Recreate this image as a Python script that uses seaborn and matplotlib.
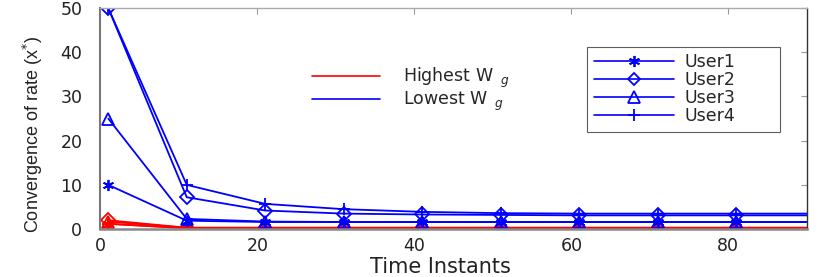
import numpy as np
import pandas as pd
import seaborn as sns
import matplotlib.pyplot as plt
from matplotlib.lines import Line2D

# time instants (last point sits beyond the axis limit, lines run to the edge)
time_instants = [1, 11, 21, 31, 41, 51, 61, 71, 81, 91]

# lowest W_g (blue)
low_user1 = [10.0, 1.9, 1.6, 1.6, 1.6, 1.6, 1.6, 1.6, 1.6, 1.6]
low_user2 = [50.0, 7.2, 4.2, 3.5, 3.3, 3.2, 3.1, 3.1, 3.1, 3.1]
low_user3 = [25.0, 2.3, 1.7, 1.6, 1.6, 1.6, 1.6, 1.6, 1.6, 1.6]
low_user4 = [50.0, 10.0, 5.7, 4.5, 3.9, 3.6, 3.5, 3.5, 3.5, 3.5]

# highest W_g (red)
high_user1 = [1.2, 0.2, 0.2, 0.2, 0.2, 0.2, 0.2, 0.2, 0.2, 0.2]
high_user2 = [2.0, 0.3, 0.3, 0.3, 0.3, 0.3, 0.3, 0.3, 0.3, 0.3]
high_user3 = [1.7, 0.3, 0.3, 0.3, 0.3, 0.3, 0.3, 0.3, 0.3, 0.3]
high_user4 = [1.2, 0.2, 0.2, 0.2, 0.2, 0.2, 0.2, 0.2, 0.2, 0.2]

user_names = ["User1", "User2", "User3", "User4"]
user_markers = [(6, 2, 0), "D", "^", "+"]

sns.set_style("white")
plt.rcParams['font.family'] = ['DejaVu Sans']

fig = plt.figure(figsize=(8.3, 2.77), dpi=100)
ax = fig.add_axes([0.121, 0.173, 0.851, 0.798])

series = [("#ff0000", [high_user1, high_user2, high_user3, high_user4]),
          ("#0000ff", [low_user1, low_user2, low_user3, low_user4])]

for color, users in series:
    for name, vals, mk in zip(user_names, users, user_markers):
        df = pd.DataFrame({'t': time_instants, 'rate': vals})
        sns.lineplot(data=df, x='t', y='rate', ax=ax, color=color,
                     marker=mk, markersize=8 if mk != "D" else 7,
                     markerfacecolor='none', markeredgecolor=color,
                     markeredgewidth=1.3, linewidth=1.3)

ax.set_xlim(0, 90)
ax.set_ylim(0, 50)
ax.set_xticks([0, 20, 40, 60, 80])
ax.set_yticks([0, 10, 20, 30, 40, 50])
ax.tick_params(direction='in', length=4, color='#999999', labelsize=12.5,
               top=True, right=True, labelcolor='#222222')
ax.tick_params(axis='x', pad=6)
ax.tick_params(axis='y', pad=13)
ax.spines['left'].set_color('#777777')
ax.spines['left'].set_linewidth(1.5)
ax.spines['bottom'].set_color('#888888')
ax.spines['bottom'].set_linewidth(1.8)
ax.spines['top'].set_color('#aaaaaa')
ax.spines['top'].set_linewidth(1.0)
ax.spines['right'].set_color('#333333')
ax.spines['right'].set_linewidth(1.0)

ax.set_xlabel("Time Instants", fontsize=15, color='#222222')
ax.xaxis.set_label_coords(0.482, -0.125)
ax.set_ylabel("Convergence of rate (x$^{*}$)", fontsize=13,
              color='#222222', family='Liberation Sans')
ax.yaxis.set_label_coords(-0.078, 0.43)

# weight legend
wg_handles = [Line2D([], [], color="#ff0000", lw=1.2),
              Line2D([], [], color="#0000ff", lw=1.2)]
leg1 = ax.legend(wg_handles, ["Highest W$_{\\ \\ g}$", "Lowest W$_{\\ \\ g}$"],
                 loc='upper left', bbox_to_anchor=(0.278, 0.81), frameon=False,
                 handlelength=3.9, handletextpad=1.3, fontsize=12.5,
                 labelspacing=0.0)
ax.add_artist(leg1)

# user legend
user_handles = [Line2D([], [], color="#0000ff", lw=1.2, marker=mk,
                       markerfacecolor='none', markeredgewidth=1.3,
                       markersize=8 if mk != "D" else 6)
                for mk in user_markers]
leg2 = ax.legend(user_handles, user_names, loc='upper left',
                 bbox_to_anchor=(0.677, 0.3, 0.297, 0.565), mode='expand',
                 frameon=True, fancybox=False,
                 handlelength=4.6, fontsize=12.5, labelspacing=0.0,
                 borderpad=0.4, handletextpad=0.6)
leg2.get_frame().set_edgecolor('#333333')
leg2.get_frame().set_linewidth(0.8)

fig.savefig("out.png", dpi=100)
